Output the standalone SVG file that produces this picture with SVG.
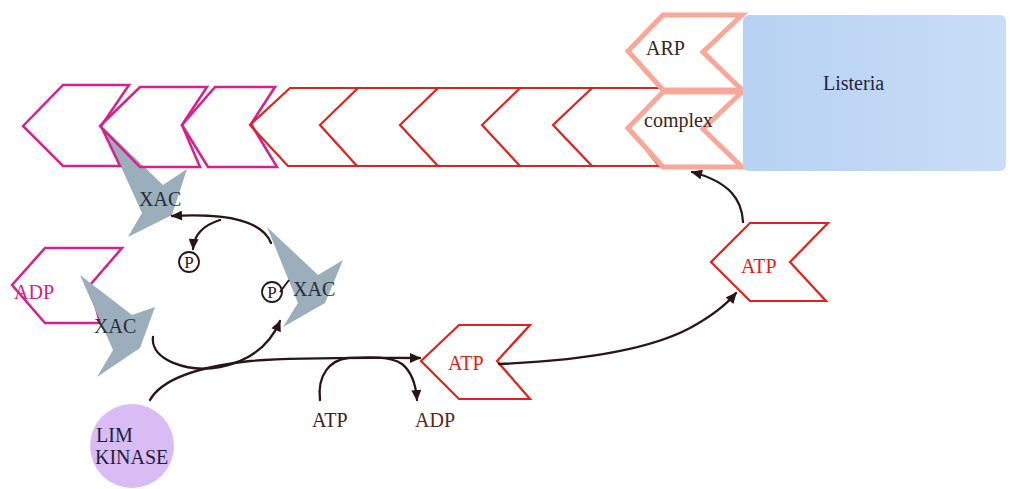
<svg xmlns="http://www.w3.org/2000/svg" width="1010" height="489" viewBox="0 0 1010 489">
  <defs>
    <linearGradient id="listeriaFill" x1="0" y1="0" x2="1" y2="0">
      <stop offset="0" stop-color="#b8d2f3"/>
      <stop offset="1" stop-color="#c8ddf7"/>
    </linearGradient>
    <marker id="arrow" viewBox="0 0 10 9" refX="9" refY="4.5" markerWidth="12" markerHeight="10" markerUnits="userSpaceOnUse" orient="auto">
      <path d="M0,0 L10,4.5 L0,9 z" fill="#2a1418"/>
    </marker>
    <style>
      text { font-family: "Liberation Serif", "Times New Roman", serif; font-size: 20px; }
      .magenta { fill: none; stroke: #d6208c; stroke-width: 2.5; stroke-linejoin: miter; }
      .red { fill: none; stroke: #e3201c; stroke-width: 2.2; stroke-linejoin: miter; }
      .redfill { fill: #ffffff; stroke: #e3201c; stroke-width: 2.2; }
      .arp { fill: #ffffff; stroke: #f7a898; stroke-width: 5; stroke-linejoin: miter; }
      .xac { fill: #9aaebb; }
      .conn { fill: none; stroke: #2a1418; stroke-width: 2.3; stroke-linecap: round; }
      .dark { fill: #2a2a3a; }
      .plabel { font-size: 17px; fill: #2a1418; }
    </style>
  </defs>

  <rect width="1010" height="489" fill="#ffffff"/>

  <!-- ADP-bound subunit (left) -->
  <g id="adp-subunit">
    <polygon class="magenta" points="12,285 45,248 122,248 90,285 100,323 45,323"/>
    <text x="14" y="299" fill="#d6208c" font-size="21">ADP</text>
  </g>

  <!-- XAC (ADF/cofilin) molecules -->
  <g id="xac-top">
    <polygon class="xac" points="103,127 163,185 187,169 172,215 128,237 142,213"/>
    <text x="139" y="206" class="dark">XAC</text>
  </g>
  <g id="xac-bottom">
    <polygon class="xac" points="80,275 132,315 155,307 140,348 97,377 113,350"/>
    <text x="94" y="333" class="dark">XAC</text>
  </g>
  <g id="xac-phospho">
    <polygon class="xac" points="267,227 318,275 343,260 325,303 283,327 298,303"/>
    <text x="293" y="296" class="dark">XAC</text>
  </g>

  <!-- ADP-actin subunits at the pointed end -->
  <g id="filament-adp">
    <polygon class="magenta" points="23,126 63,85 129,85 101,126 120,166 63,166"/>
    <polygon class="magenta" points="100,126 140,87 207,87 182,125 200,167 140,167"/>
    <polygon class="magenta" points="182,125 215,87 275,87 251,124 277,167 208,167"/>
  </g>

  <!-- ATP-actin subunits toward the barbed end -->
  <g id="filament-atp">
    <path class="red" d="M660,88 H290 L250,125 L288,166 H663"/>
    <path class="red" d="M358,88 L320,125 L357,166"/>
    <path class="red" d="M438,88 L400,125 L438,166"/>
    <path class="red" d="M520,88 L482,125 L520,166"/>
    <path class="red" d="M592,88 L553,125 L592,166"/>
    <path class="red" d="M628,127 L660,167"/>
  </g>

  <!-- Arp2/3 complex -->
  <g id="arp-complex">
    <polygon class="arp" points="628,51 663,15 742,15 703,52 742,90 663,90"/>
    <polygon class="arp" points="628,128 663,92 742,92 703,129 742,167 663,167"/>
    <text x="646" y="55" fill="#3b2323">ARP</text>
    <text x="644" y="127" fill="#3b2323">complex</text>
  </g>

  <!-- Bacterium -->
  <g id="listeria">
    <rect x="743" y="15" width="263" height="156" rx="6" fill="url(#listeriaFill)"/>
    <text x="823" y="90" fill="#1e2444" font-size="21">Listeria</text>
  </g>

  <!-- Free ATP-actin monomers -->
  <g id="atp-monomer-1">
    <polygon class="redfill" points="421,361 459,325 530,325 497,361 530,399 459,399"/>
    <text x="448" y="370" fill="#e3201c">ATP</text>
  </g>
  <g id="atp-monomer-2">
    <polygon class="redfill" points="711,262 750,223 828,223 790,262 826,301 750,301"/>
    <text x="741" y="273" fill="#e3201c">ATP</text>
  </g>

  <!-- LIM kinase -->
  <g id="lim-kinase">
    <circle cx="132" cy="446" r="42" fill="#d9bcf4"/>
    <text x="96" y="442" fill="#1e1e3c">LIM</text>
    <text x="95" y="464" fill="#1e1e3c">KINASE</text>
  </g>

  <!-- Reaction arrows -->
  <g id="connectors">
    <path class="conn" d="M271,243 C263,222 232,213 172,216" marker-end="url(#arrow)"/>
    <path class="conn" d="M220,220 C204,225 194,234 193,249" marker-end="url(#arrow)"/>
    <path class="conn" d="M153,337 C150,360 188,373 220,367 C250,361 270,345 280,321" marker-end="url(#arrow)"/>
    <path class="conn" d="M150,400 C163,377 205,366 250,361 C300,357 360,358 420,358" marker-end="url(#arrow)"/>
    <path class="conn" d="M320,400 C317,375 330,360 348,358 C370,357 390,356 402,364 C412,372 416,386 417,400" marker-end="url(#arrow)"/>
    <path class="conn" d="M499,364 C570,361 645,352 690,328 C712,316 726,305 736,293" marker-end="url(#arrow)"/>
    <path class="conn" d="M743,222 C742,200 730,182 692,172" marker-end="url(#arrow)"/>
  </g>

  <!-- Phosphate groups -->
  <g id="phosphate-free">
    <circle cx="189" cy="262" r="10" fill="none" stroke="#2a1418" stroke-width="1.8"/>
    <text x="189" y="268" text-anchor="middle" class="plabel">P</text>
  </g>
  <g id="phosphate-bound">
    <circle cx="272" cy="292" r="10" fill="none" stroke="#2a1418" stroke-width="1.8"/>
    <text x="272" y="298" text-anchor="middle" class="plabel">P</text>
    <line x1="280" y1="292" x2="289" y2="280" stroke="#2a1418" stroke-width="1.8"/>
  </g>

  <!-- Nucleotide exchange labels -->
  <g id="nucleotide-labels">
    <text x="312" y="427" fill="#3d1c2c">ATP</text>
    <text x="415" y="427" fill="#5a2818">ADP</text>
  </g>
</svg>
